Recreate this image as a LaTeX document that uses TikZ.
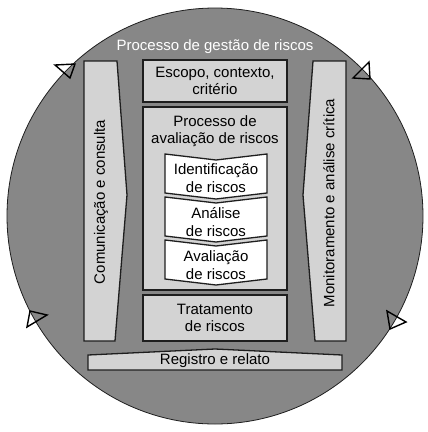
\documentclass[tikz,border=0pt]{standalone}
\usepackage{fontspec}
\setmainfont{Liberation Sans}
\usetikzlibrary{positioning}
\definecolor{ringgray}{HTML}{878787}
\definecolor{boxgray}{HTML}{D3D3D3}
\definecolor{edgegray}{HTML}{1E1E1E}
\tikzset{panel/.style={draw=edgegray, fill=boxgray, line width=1.3pt, line join=miter},
	stepshape/.style={draw=edgegray, fill=white, line width=1.3pt, line join=miter},
	cycletip/.style={draw=black, line width=1.4pt, line join=miter},
	txt/.style={align=center, inner sep=0pt, font=\fontsize{15}{17.5}\selectfont}}
\newcommand{\riskstep}{\draw[stepshape] (0,0) -- (51,6) -- (102,0) -- (102,39) -- (51,45) -- (0,39) -- cycle;}

\begin{document}
\begin{tikzpicture}[x=1pt, y=-1pt]

					\useasboundingbox (0,0) rectangle (428,432);
					\fill[white] (0,0) rectangle (428,432);
					\draw[fill=ringgray, draw=edgegray, line width=0.8pt] (215,216) circle (208pt);

					% side bars
					\draw[panel] (84,61) -- (117,61) -- (127,195) -- (115,341) -- (84,341) -- cycle;
					\draw[panel] (346,61) -- (313,61) -- (303,195) -- (315,341) -- (346,341) -- cycle;

					% middle column
					\draw[panel] (143,60) rectangle (287,102);
					\draw[panel] (143,107) rectangle (287,290);
					\draw[panel] (143,295) rectangle (287,341);
					\draw[panel] (88,355) -- (215,349) -- (342,355) -- (342,370) -- (88,370) -- cycle;

					\begin{scope}[shift={(165,154)}]
						\riskstep
					\end{scope}

					\begin{scope}[shift={(165,197)}]
						\riskstep
					\end{scope}

					\begin{scope}[shift={(165,240)}]
						\riskstep
					\end{scope}

					% arrow heads on the ring
					\draw[cycletip] (55,65) -- (75,64) -- (70,78) -- cycle;
					\draw[cycletip] (353,78) -- (370,79) -- (369,62) -- cycle;
					\draw[cycletip] (30,311) -- (47,315) -- (27,327) -- cycle;
					\draw[cycletip] (387,311) -- (406,322) -- (390,329) -- cycle;

					\node[txt, text=white] (title) at (215,47) {Processo de gestão de riscos};
					\node[txt] (scope) at (215,81) {Escopo, contexto,\\critério};
					\node[txt] (assess) at (215,131) {Processo de\\avaliação de riscos};
					\node[txt] (ident) at (216,178) {Identificação\\de riscos};
					\node[txt] (analysis) at (216,222) {Análise\\de riscos};
					\node[txt] (evaluation) at (216,265) {Avaliação\\de riscos};
					\node[txt] (treat) at (215,318) {Tratamento\\de riscos};
					\node[txt] (record) at (215,361) {Registro e relato};
					\node[txt, rotate=90] (comm) at (101,202) {Comunicação e consulta};
					\node[txt, rotate=90] (monitor) at (329,203) {Monitoramento e análise crítica};

				\end{tikzpicture}
\end{document}
